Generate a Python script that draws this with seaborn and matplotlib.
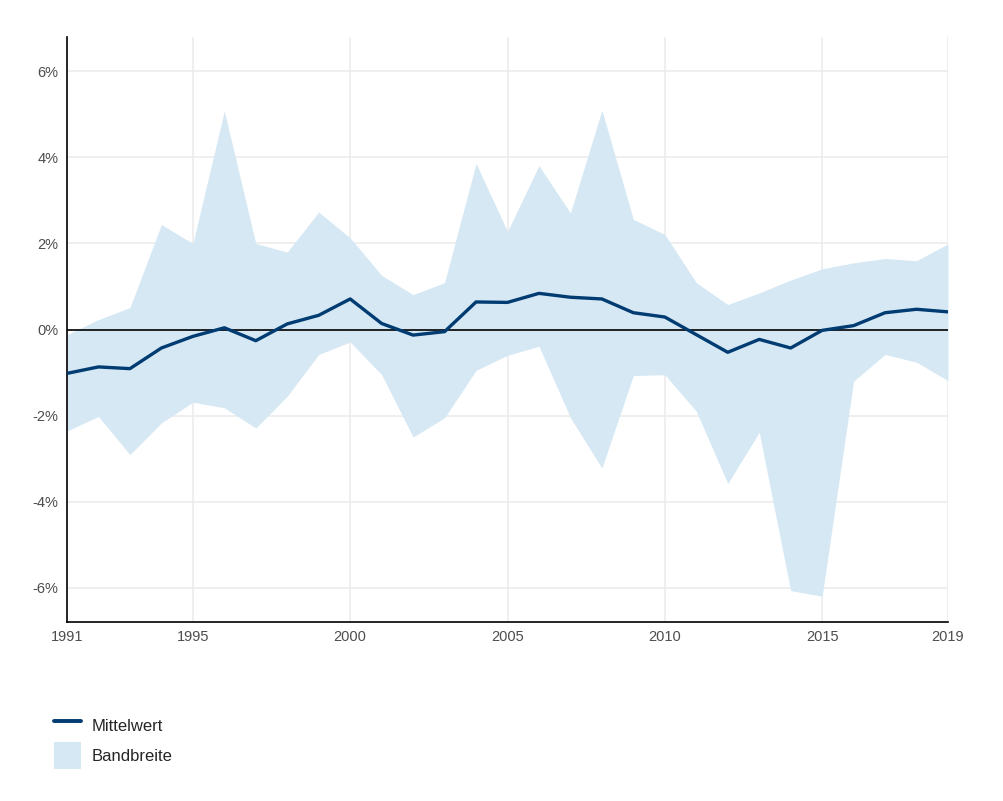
import numpy as np
import pandas as pd
import matplotlib
matplotlib.use("Agg")
import matplotlib.pyplot as plt
import seaborn as sns
from matplotlib.patches import Patch
from matplotlib.lines import Line2D

# Werte (in %)
jahre = list(range(1991, 2020))
mittelwert = [-1.02, -0.87, -0.91, -0.43, -0.16, 0.04, -0.26, 0.13, 0.33, 0.71,
              0.14, -0.13, -0.05, 0.64, 0.63, 0.84, 0.75, 0.71, 0.39, 0.29,
              -0.12, -0.53, -0.23, -0.43, -0.02, 0.09, 0.39, 0.47, 0.41]
oben = [-0.12, 0.23, 0.51, 2.44, 2.0, 5.08, 2.0, 1.8, 2.73, 2.13,
        1.26, 0.81, 1.09, 3.86, 2.28, 3.81, 2.71, 5.10, 2.56, 2.21,
        1.09, 0.58, 0.85, 1.15, 1.41, 1.55, 1.65, 1.60, 1.99]
unten = [-2.36, -2.02, -2.91, -2.17, -1.69, -1.82, -2.29, -1.55, -0.58, -0.29,
         -1.05, -2.50, -2.05, -0.95, -0.60, -0.39, -2.05, -3.22, -1.07, -1.05,
         -1.90, -3.58, -2.39, -6.07, -6.20, -1.20, -0.58, -0.76, -1.19]
x_ticks = [1991, 1995, 2000, 2005, 2010, 2015, 2019]
y_ticks = [-6, -4, -2, 0, 2, 4, 6]

df = pd.DataFrame({"jahr": jahre, "mittelwert": mittelwert, "oben": oben, "unten": unten})

sns.set_theme(style="white")
plt.rcParams["font.family"] = ["Liberation Sans", "DejaVu Sans"]

farbe_linie = "#003b71"
farbe_band = "#d5e8f4"

fig = plt.figure(figsize=(10.04, 8.01), dpi=100)
ax = fig.add_axes([67 / 1004, 1 - 622 / 801, (948 - 67) / 1004, (622 - 37) / 801])

# Gitterlinien
for xt in x_ticks:
    ax.axvline(xt, color="#ebebeb", lw=1.1, zorder=0)
for yt in y_ticks:
    ax.axhline(yt, color="#ebebeb", lw=1.1, zorder=0)

ax.fill_between(df["jahr"], df["unten"], df["oben"], color=farbe_band, lw=0, zorder=1)
ax.axhline(0, color="black", lw=1.2, zorder=2)
sns.lineplot(data=df, x="jahr", y="mittelwert", color=farbe_linie, lw=2.4, ax=ax, zorder=3)

ax.set_xlim(1991, 2019)
ax.set_ylim(-6.8, 6.8)
ax.set_xticks(x_ticks)
ax.set_yticks(y_ticks)
ax.set_yticklabels([f"{v}%" for v in y_ticks])
ax.set_xlabel("")
ax.set_ylabel("")

for s in ["top", "right"]:
    ax.spines[s].set_visible(False)
for s in ["left", "bottom"]:
    ax.spines[s].set_color("black")
    ax.spines[s].set_linewidth(1.2)

ax.tick_params(axis="both", which="major", labelsize=10.5, labelcolor="#4d4d4d",
               length=3, width=0.8, color="#333333", direction="out", pad=3)

# Legende unten links
handles = [Line2D([0], [0], color=farbe_linie, lw=2.8),
           Patch(facecolor=farbe_band, edgecolor="none")]
fig.legend(handles, ["Mittelwert", "Bandbreite"], loc="upper left",
           bbox_to_anchor=(39 / 1004, 1 - 697 / 801), frameon=False,
           fontsize=12, handlelength=1.6, handleheight=2.1, labelspacing=0.2,
           handletextpad=0.65)

fig.savefig("out.png", dpi=100)
